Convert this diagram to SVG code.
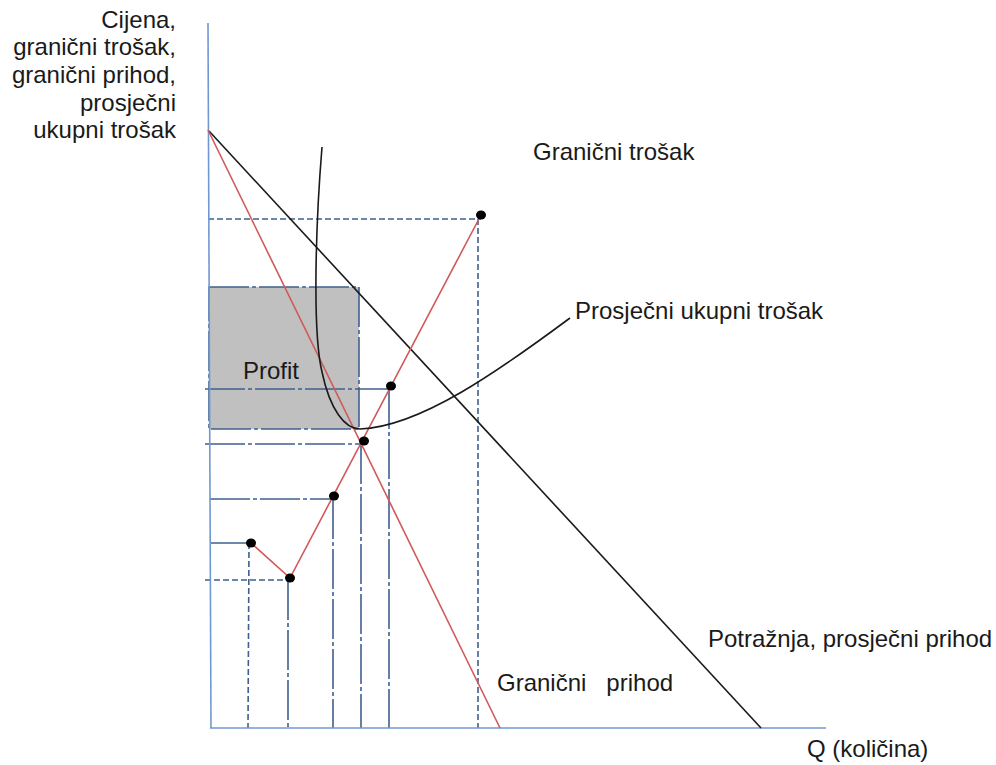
<svg xmlns="http://www.w3.org/2000/svg" width="996" height="765" viewBox="0 0 996 765">
<style>
text{font-family:"Liberation Sans",Arial,sans-serif;font-size:24px;fill:#1a1a1a;white-space:pre}
.axis{stroke:#7098d0;stroke-width:1.6;fill:none}
.guide{stroke:#3f5f8f;stroke-width:1.6;fill:none;stroke-dasharray:40 3 4 3}
.dash{stroke:#3f5f8f;stroke-width:1.6;fill:none;stroke-dasharray:6 3}
.red{stroke:#d05a5a;stroke-width:1.6;fill:none}
.blk{stroke:#1a1a1a;stroke-width:1.6;fill:none}
.dot{fill:#000}
.profit{fill:#c0c0c0;stroke:#3f5f8f;stroke-width:1.6;stroke-dasharray:40 3 4 3}
</style>
<rect width="996" height="765" fill="#fff"/>
<g id="profit-area">
<rect class="profit" x="209" y="287" width="150" height="142"/>
<text x="243" y="379">Profit</text>
</g>
<g id="guides">
<line class="dash" x1="208" y1="219" x2="481" y2="219"/>
<line class="dash" x1="478" y1="219" x2="478" y2="728"/>
<line class="guide" x1="205" y1="389" x2="390" y2="389"/>
<line class="guide" x1="389" y1="389" x2="389" y2="728"/>
<line class="guide" x1="205" y1="444" x2="363" y2="444"/>
<line class="guide" x1="361" y1="444" x2="361" y2="728"/>
<line class="guide" x1="210" y1="499" x2="334" y2="499"/>
<line class="guide" x1="333" y1="499" x2="333" y2="728"/>
<line class="guide" x1="210" y1="543" x2="250" y2="543"/>
<line class="dash" x1="249" y1="543" x2="248" y2="728"/>
<line class="dash" x1="205" y1="580" x2="290" y2="580"/>
<line class="guide" x1="288" y1="580" x2="288" y2="728"/>
</g>
<g id="axes">
<line class="axis" x1="208" y1="23" x2="211" y2="728"/>
<line class="axis" x1="210" y1="728" x2="826" y2="728"/>
</g>
<g id="curves">
<line id="demand" class="blk" x1="209" y1="131" x2="761" y2="728"/>
<line id="mr" class="red" x1="208" y1="130" x2="500" y2="728"/>
<polyline id="mc" class="red" points="251,543 290,578 481,215"/>
<path id="atc" class="blk" d="M322,147 C316,220 312,330 322,372 C330,410 345,429 360,429 C420,427 500,370 570,318"/>
</g>
<g id="points">
<ellipse class="dot" cx="251" cy="543" rx="5" ry="4.5"/>
<ellipse class="dot" cx="290" cy="578" rx="5" ry="4.5"/>
<ellipse class="dot" cx="334" cy="496" rx="5" ry="4.5"/>
<ellipse class="dot" cx="364" cy="441" rx="5" ry="4.5"/>
<ellipse class="dot" cx="391" cy="386" rx="5" ry="4.5"/>
<ellipse class="dot" cx="481" cy="215" rx="5" ry="4.5"/>
</g>
<g id="labels">
<text text-anchor="end" x="176" y="28">Cijena,</text>
<text text-anchor="end" x="176" y="55">granični trošak,</text>
<text text-anchor="end" x="176" y="83">granični prihod,</text>
<text text-anchor="end" x="176" y="111">prosječni</text>
<text text-anchor="end" x="176" y="138">ukupni trošak</text>
<text x="533" y="160">Granični trošak</text>
<text x="575" y="319">Prosječni ukupni trošak</text>
<text x="708" y="647">Potražnja, prosječni prihod</text>
<text x="497" y="691">Granični   prihod</text>
<text x="807" y="757">Q (količina)</text>
</g>
</svg>
